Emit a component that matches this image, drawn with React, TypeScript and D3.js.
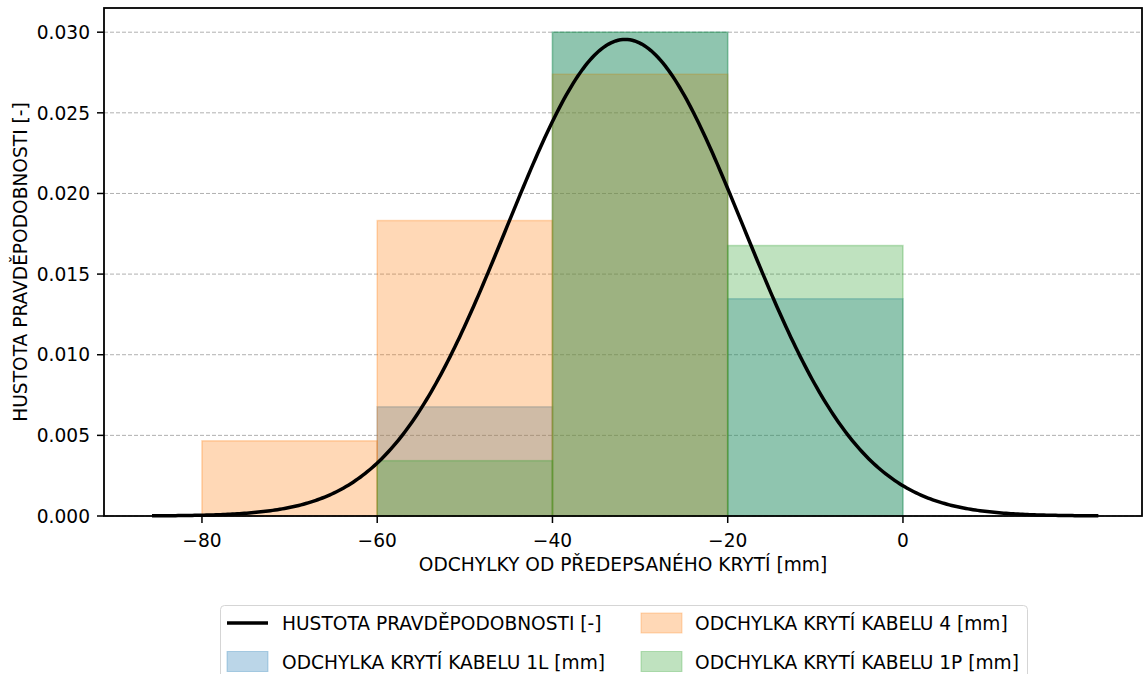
import React, { useEffect } from "react";
import * as d3 from "d3";

// ---- data ----
const binEdges = [-80, -60, -40, -20, 0];
const cable1L = [0, 0.00677, 0.0300, 0.01347]; // ODCHYLKA KRYTÍ KABELU 1L
const cable4 = [0.00466, 0.01832, 0.02739, 0]; // ODCHYLKA KRYTÍ KABELU 4
const cable1P = [0, 0.00343, 0.0300, 0.01677]; // ODCHYLKA KRYTÍ KABELU 1P
const densityMean = -31.7;
const densitySigma = 13.5;
const xTicks = [-80, -60, -40, -20, 0];
const yTicks = [0, 0.005, 0.01, 0.015, 0.02, 0.025, 0.03];

const W = 1147;
const H = 674;
const M = { left: 104, right: 1142, top: 8, bottom: 516 };
const FONT = "'DejaVu Sans', sans-serif";
const FS = 18.6;

const series = [
  { name: "ODCHYLKA KRYTÍ KABELU 1L [mm]", values: cable1L, color: "#1f77b4" },
  { name: "ODCHYLKA KRYTÍ KABELU 4 [mm]", values: cable4, color: "#ff7f0e" },
  { name: "ODCHYLKA KRYTÍ KABELU 1P [mm]", values: cable1P, color: "#2ca02c" },
];

export default function App() {
  useEffect(() => {
    document.body.style.margin = "0";
  }, []);

  const x = d3.scaleLinear().domain([-91.18, 27.28]).range([M.left, M.right]);
  const y = d3.scaleLinear().domain([0, 0.0315]).range([M.bottom, M.top]);

  const lo = densityMean - 4 * densitySigma;
  const hi = densityMean + 4 * densitySigma;
  const pts: [number, number][] = d3.range(0, 401).map((i) => {
    const v = lo + ((hi - lo) * i) / 400;
    const z = (v - densityMean) / densitySigma;
    return [v, Math.exp(-0.5 * z * z) / (densitySigma * Math.sqrt(2 * Math.PI))];
  });
  const line = d3
    .line<[number, number]>()
    .x((d) => x(d[0]))
    .y((d) => y(d[1]));

  const fmt = d3.format(".3f");
  const xFmt = (v: number) => (v < 0 ? "\u2212" + Math.abs(v) : String(v));

  return (
    <svg
      width={W}
      height={H}
      style={{ display: "block", position: "absolute", left: 0, top: 0, background: "#fff" }}
      fontFamily={FONT}
    >
      {/* grid */}
      {yTicks.map((t) => (
        <line
          key={"g" + t}
          x1={M.left}
          x2={M.right}
          y1={y(t)}
          y2={y(t)}
          stroke="#b0b0b0"
          strokeWidth={1}
          strokeDasharray="4,2"
        />
      ))}
      {/* bars */}
      {series.map((s) =>
        s.values.map((v, i) =>
          v > 0 ? (
            <rect
              key={s.name + i}
              x={x(binEdges[i])}
              width={x(binEdges[i + 1]) - x(binEdges[i])}
              y={y(v)}
              height={y(0) - y(v)}
              fill={s.color}
              fillOpacity={0.3}
              stroke={s.color}
              strokeOpacity={0.3}
              strokeWidth={1.5}
            />
          ) : null
        )
      )}
      {/* density curve */}
      <path d={line(pts) || ""} fill="none" stroke="#000" strokeWidth={3.5} />
      {/* frame */}
      <rect
        x={M.left}
        y={M.top}
        width={M.right - M.left}
        height={M.bottom - M.top}
        fill="none"
        stroke="#000"
        strokeWidth={1.8}
      />
      {/* y ticks */}
      {yTicks.map((t) => (
        <g key={"y" + t}>
          <line x1={M.left - 7} x2={M.left} y1={y(t)} y2={y(t)} stroke="#000" strokeWidth={1.5} />
          <text x={90} y={y(t)} dy="0.36em" textAnchor="end" fontSize={FS} fill="#000">
            {fmt(t)}
          </text>
        </g>
      ))}
      {/* x ticks */}
      {xTicks.map((t) => (
        <g key={"x" + t}>
          <line x1={x(t)} x2={x(t)} y1={M.bottom} y2={M.bottom + 7} stroke="#000" strokeWidth={1.5} />
          <text x={x(t)} y={547} textAnchor="middle" fontSize={FS} fill="#000">
            {xFmt(t)}
          </text>
        </g>
      ))}
      {/* axis labels */}
      <text x={(M.left + M.right) / 2} y={571} textAnchor="middle" fontSize={FS} fill="#000">
        ODCHYLKY OD PŘEDEPSANÉHO KRYTÍ [mm]
      </text>
      <text
        transform={`translate(27, ${(M.top + M.bottom) / 2}) rotate(-90)`}
        textAnchor="middle"
        fontSize={FS}
        fill="#000"
      >
        HUSTOTA PRAVDĚPODOBNOSTI [-]
      </text>
      {/* legend */}
      <g>
        <rect
          x={220.5}
          y={605.5}
          width={807}
          height={80}
          rx={4}
          fill="#fff"
          fillOpacity={0.8}
          stroke="#d5d5d5"
          strokeWidth={1}
        />
        <line x1={227} x2={268} y1={623} y2={623} stroke="#000" strokeWidth={3.5} />
        <text x={282} y={630} fontSize={FS} fill="#000">
          HUSTOTA PRAVDĚPODOBNOSTI [-]
        </text>
        {[
          { s: series[0], px: 227, tx: 282, cy: 661.5 },
          { s: series[1], px: 641, tx: 695, cy: 623 },
          { s: series[2], px: 641, tx: 695, cy: 661.5 },
        ].map((e) => (
          <g key={"l" + e.s.name}>
            <rect
              x={e.px}
              y={e.cy - 10}
              width={41}
              height={20}
              fill={e.s.color}
              fillOpacity={0.3}
              stroke={e.s.color}
              strokeOpacity={0.3}
              strokeWidth={1}
            />
            <text x={e.tx} y={e.cy + 7} fontSize={FS} fill="#000">
              {e.s.name}
            </text>
          </g>
        ))}
      </g>
    </svg>
  );
}
